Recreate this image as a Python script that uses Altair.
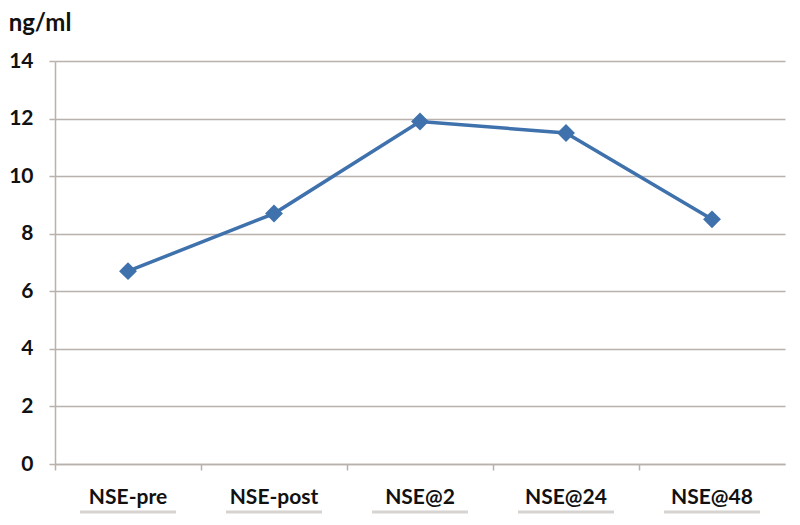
import altair as alt
import pandas as pd

categories = ["NSE-pre", "NSE-post", "NSE@2", "NSE@24", "NSE@48"]
values = [6.7, 8.7, 11.9, 11.5, 8.5]
y_ticks = [0, 2, 4, 6, 8, 10, 12, 14]

df = pd.DataFrame({"cat": categories, "val": values})

FONT = "Lato"
GRID = "#b9b1ab"
BLUE = "#3f72ad"

x_enc = alt.X("cat:N", sort=categories, title=None,
              scale=alt.Scale(paddingInner=0, paddingOuter=0),
              axis=alt.Axis(labelAngle=0, labelFontSize=21, labelFontWeight="bold",
                            labelFont=FONT, labelColor="#111111", labelPadding=16,
                            domainColor=GRID, domainWidth=1.5, tickColor=GRID,
                            tickSize=6, tickWidth=1.5, bandPosition=0, grid=False))
y_enc = alt.Y("val:Q", title=None,
              scale=alt.Scale(domain=[0, 14], nice=False),
              axis=alt.Axis(values=y_ticks, labelFontSize=21, labelFontWeight="bold",
                            labelFont=FONT, labelColor="#111111", labelPadding=16,
                            domainColor=GRID, domainWidth=1.5, tickColor=GRID,
                            tickSize=6, tickWidth=1.5, grid=True, gridColor=GRID,
                            gridWidth=1.5))

shadow = alt.Chart(df).mark_tick(color="#c4c0bc", thickness=3, size=96, clip=False,
                                 orient="horizontal").encode(
    x=alt.X("cat:N", sort=categories),
    y=alt.value(451),
)

line = alt.Chart(df).mark_line(color=BLUE, strokeWidth=3.5).encode(x=x_enc, y=y_enc)
pts = alt.Chart(df).mark_point(shape="diamond", filled=True, color=BLUE, size=320,
                               opacity=1).encode(x=alt.X("cat:N", sort=categories),
                                                 y="val:Q")

chart = alt.layer(line, pts, shadow).properties(
    width=730, height=403,
    autosize=alt.AutoSizeParams(type="none"),
    padding={"left": 47, "top": 53, "right": 7, "bottom": 53},
    title=alt.TitleParams(text="ng/ml", anchor="start", fontSize=24, fontWeight="bold",
                          font=FONT, color="#111111", dx=0, offset=14),
).configure_view(stroke=None)

chart.save("out.html", embed_options={"renderer": "svg", "actions": False})
